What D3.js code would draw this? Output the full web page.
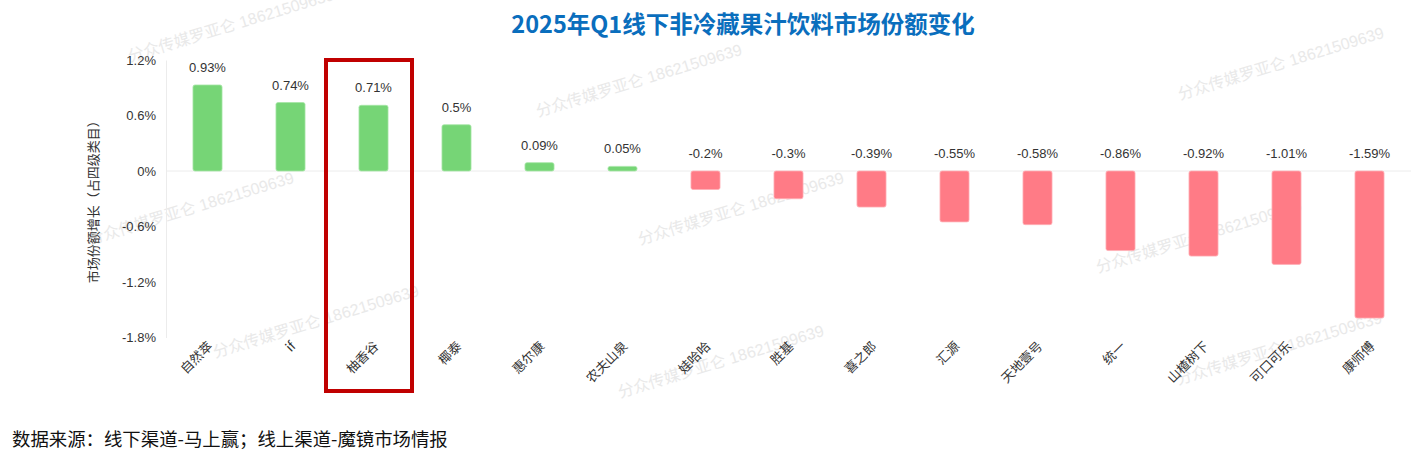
<!DOCTYPE html>
<html>
<head>
<meta charset="utf-8">
<script src="https://cdn.jsdelivr.net/npm/d3@7"></script>
<style>
  body { margin: 0; background: #fff; }
  svg text { font-family: "Liberation Sans", "Noto Sans CJK SC", sans-serif; }
</style>
</head>
<body>
<svg id="chart"></svg>
<script>
// brands and their share change (percentage points)
var brands = ["自然萃", "if", "柚香谷", "椰泰", "惠尔康", "农夫山泉", "娃哈哈", "胜基", "喜之郎", "汇源", "天地壹号", "统一", "山楂树下", "可口可乐", "康师傅"];
var shareChange = [0.93, 0.74, 0.71, 0.5, 0.09, 0.05, -0.2, -0.3, -0.39, -0.55, -0.58, -0.86, -0.92, -1.01, -1.59];
var yTicks = [1.2, 0.6, 0, -0.6, -1.2, -1.8];
var highlight = "柚香谷";

var W = 1422, H = 455;
var svg = d3.select("#chart").attr("width", W).attr("height", H);

// watermark layer
var marks = [[538, 117], [1180, 100], [90, 245], [640, 245], [1098, 273], [215, 358], [620, 398], [1178, 385], [130, 62]];
svg.append("g")
    .selectAll("text")
    .data(marks)
    .enter()
    .append("text")
    .attr("transform", (d) => "translate(" + d[0] + "," + d[1] + ") rotate(-17)")
    .attr("fill", "#e9e9e9")
    .style("font-size", "16px")
    .text("分众传媒罗亚仑  18621509639");

var x = d3.scaleBand()
    .domain(brands)
    .range([166, 1411])
    .paddingInner(0.65)
    .paddingOuter(0.325);

var y = d3.scaleLinear()
    .domain([-1.8, 1.2])
    .range([337.5, 60]);

// title
svg.append("text")
    .attr("x", 743)
    .attr("y", 33)
    .attr("text-anchor", "middle")
    .attr("fill", "#0a6ebd")
    .style("font-size", "23.5px")
    .style("font-weight", "bold")
    .style("font-family", "'Noto Sans CJK SC', sans-serif")
    .text("2025年Q1线下非冷藏果汁饮料市场份额变化");

// y axis
var yAxis = svg.append("g")
    .attr("transform", "translate(166,0)")
    .call(d3.axisLeft(y).tickValues(yTicks).tickSize(0).tickPadding(10).tickFormat((d) => d + "%"));
yAxis.select(".domain").attr("stroke", "#ececec");
yAxis.selectAll("text").attr("fill", "#333").style("font-size", "13px")
    .style("font-family", "'Liberation Sans', sans-serif");

svg.append("text")
    .attr("transform", "translate(98," + y(-0.3) + ") rotate(-90)")
    .attr("text-anchor", "middle")
    .attr("fill", "#333")
    .style("font-size", "13px")
    .text("市场份额增长（占四级类目）");

// zero line
svg.append("line")
    .attr("x1", 166).attr("x2", 1411)
    .attr("y1", y(0)).attr("y2", y(0))
    .attr("stroke", "#ececec");

// bars
svg.append("g")
    .selectAll("rect")
    .data(brands)
    .enter()
    .append("rect")
    .attr("x", (d) => x(d))
    .attr("width", x.bandwidth())
    .attr("y", (d, i) => y(Math.max(0, shareChange[i])))
    .attr("height", (d, i) => Math.abs(y(shareChange[i]) - y(0)))
    .attr("rx", 2)
    .attr("fill", (d, i) => shareChange[i] >= 0 ? "#76d576" : "#ff7b86")
    .attr("stroke", (d, i) => shareChange[i] >= 0 ? "#a6e6a6" : "#ffb0b6")
    .attr("stroke-width", 0.8);

// value labels
svg.append("g")
    .selectAll("text")
    .data(brands)
    .enter()
    .append("text")
    .attr("x", (d) => x(d) + x.bandwidth() / 2)
    .attr("y", (d, i) => shareChange[i] >= 0 ? y(shareChange[i]) - 13 : y(0) - 13)
    .attr("text-anchor", "middle")
    .attr("fill", "#333")
    .style("font-size", "13px")
    .text((d, i) => shareChange[i] + "%");

// category labels
svg.append("g")
    .selectAll("text")
    .data(brands)
    .enter()
    .append("text")
    .attr("transform", (d) => "translate(" + (x(d) + x.bandwidth() / 2 + 6) + ",347) rotate(-45)")
    .attr("text-anchor", "end")
    .attr("fill", "#333")
    .style("font-size", "13px")
    .style("font-family", "'Noto Sans CJK SC', sans-serif")
    .text((d) => d);

// highlight box
var hx = x(highlight) + x.bandwidth() / 2;
svg.append("rect")
    .attr("x", hx - 47.5)
    .attr("y", 60)
    .attr("width", 86)
    .attr("height", 331)
    .attr("fill", "none")
    .attr("stroke", "#c00000")
    .attr("stroke-width", 4);

// source note
svg.append("text")
    .attr("x", 12)
    .attr("y", 446)
    .attr("fill", "#111")
    .style("font-size", "18.4px")
    .style("font-family", "'Noto Sans CJK SC', sans-serif")
    .text("数据来源：线下渠道-马上赢；线上渠道-魔镜市场情报");
</script>
</body>
</html>
